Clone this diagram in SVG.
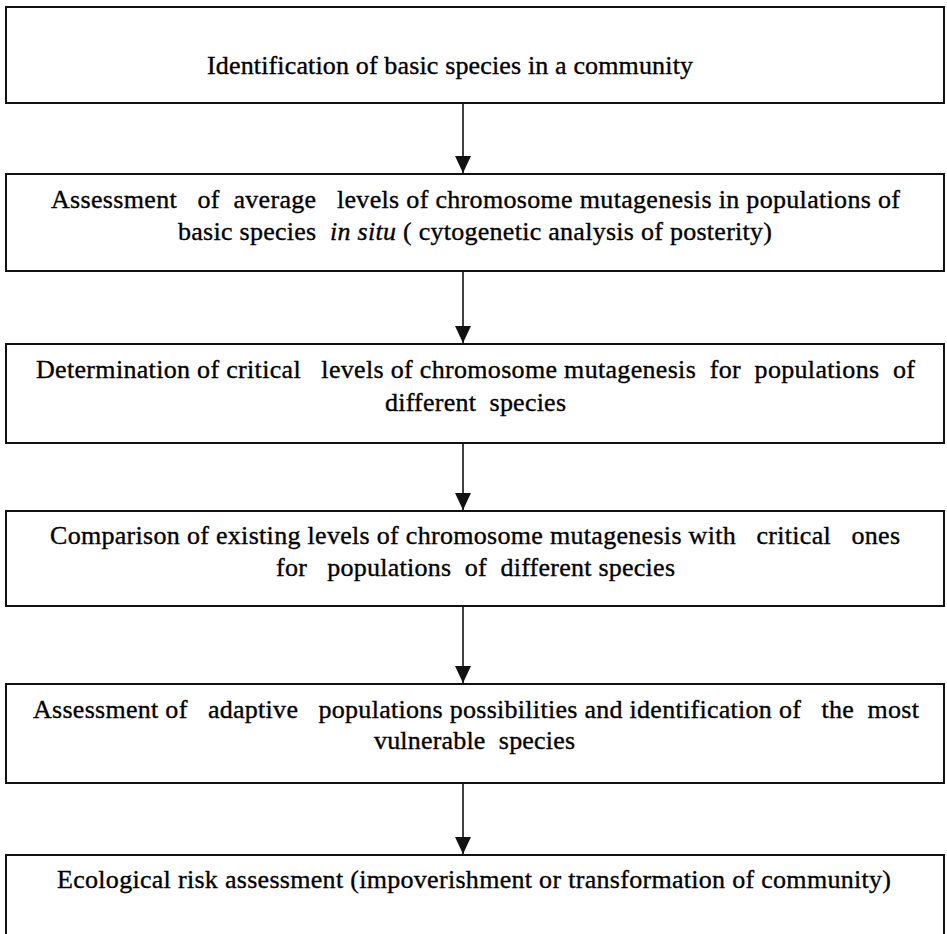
<svg xmlns="http://www.w3.org/2000/svg" width="947" height="934" viewBox="0 0 947 934">
<style>
.box{fill:#fff;stroke:#111;stroke-width:2}
.t{font-family:"Liberation Serif","Times New Roman",serif;font-size:26px;fill:#000;stroke:#000;stroke-width:0.35;white-space:pre}
.i{font-style:italic}
.c{stroke:#111;stroke-width:1.6;fill:none}
</style>
<defs>
<marker id="ah" markerUnits="userSpaceOnUse" markerWidth="17" markerHeight="16" refX="17" refY="8" orient="auto" viewBox="0 0 17 16">
<path d="M0,0 L17,8 L0,16 Z" fill="#111"/>
</marker>
</defs>
<rect width="947" height="934" fill="#fff"/>
<g id="n1">
<rect class="box" x="6" y="7" width="938" height="96"/>
<text class="t" x="207" y="74" textLength="486" lengthAdjust="spacing" xml:space="preserve">Identification of basic species in a community</text>
</g>
<g id="n2">
<rect class="box" x="6" y="174" width="938" height="97"/>
<text class="t" x="51" y="208" textLength="849" lengthAdjust="spacing" xml:space="preserve">Assessment   of  average   levels of chromosome mutagenesis in populations of</text>
<text class="t" x="178" y="240" textLength="594" lengthAdjust="spacing" xml:space="preserve">basic species  <tspan class="i">in situ</tspan> ( cytogenetic analysis of posterity)</text>
</g>
<g id="n3">
<rect class="box" x="6" y="344" width="938" height="99"/>
<text class="t" x="36" y="378" textLength="879" lengthAdjust="spacing" xml:space="preserve">Determination of critical   levels of chromosome mutagenesis  for  populations  of</text>
<text class="t" x="385" y="411" textLength="181" lengthAdjust="spacing" xml:space="preserve">different  species</text>
</g>
<g id="n4">
<rect class="box" x="6" y="511" width="938" height="95"/>
<text class="t" x="50" y="544" textLength="850" lengthAdjust="spacing" xml:space="preserve">Comparison of existing levels of chromosome mutagenesis with   critical   ones</text>
<text class="t" x="276" y="576" textLength="399" lengthAdjust="spacing" xml:space="preserve">for   populations  of  different species</text>
</g>
<g id="n5">
<rect class="box" x="6" y="684" width="938" height="99"/>
<text class="t" x="33" y="718" textLength="886" lengthAdjust="spacing" xml:space="preserve">Assessment of   adaptive   populations possibilities and identification of   the  most</text>
<text class="t" x="374" y="749" textLength="201" lengthAdjust="spacing" xml:space="preserve">vulnerable  species</text>
</g>
<g id="n6">
<rect class="box" x="6" y="855" width="938" height="100"/>
<text class="t" x="57" y="888" textLength="834" lengthAdjust="spacing" xml:space="preserve">Ecological risk assessment (impoverishment or transformation of community)</text>
</g>
<g id="connectors">
<line class="c" x1="463" y1="103" x2="463" y2="173" marker-end="url(#ah)"/>
<line class="c" x1="463" y1="271" x2="463" y2="343" marker-end="url(#ah)"/>
<line class="c" x1="463" y1="443" x2="463" y2="510" marker-end="url(#ah)"/>
<line class="c" x1="463" y1="607" x2="463" y2="683" marker-end="url(#ah)"/>
<line class="c" x1="463" y1="783" x2="463" y2="854" marker-end="url(#ah)"/>
</g>
</svg>
